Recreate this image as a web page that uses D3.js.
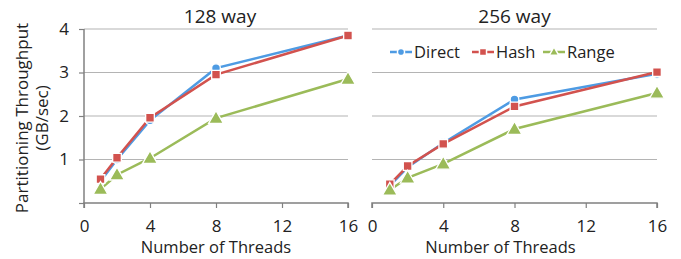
<!DOCTYPE html>
<html><head><meta charset="utf-8">
<script src="https://cdn.jsdelivr.net/npm/d3@7"></script>
<style>body{margin:0;background:#fff}svg{display:block}text{font-family:"Open Sans",sans-serif;fill:#222}</style>
</head><body><svg id="c" width="681" height="259"></svg>
<script>
const threads = [1, 2, 4, 8, 16];
const xTicks = [0, 4, 8, 12, 16];
const yTicks = [0, 1, 2, 3, 4];
const panelTitles = ["128 way", "256 way"];
const seriesNames = ["Direct", "Hash", "Range"];
const direct128 = [0.5, 1.0, 1.9, 3.1, 3.85];
const hash128 = [0.55, 1.04, 1.96, 2.95, 3.85];
const range128 = [0.32, 0.65, 1.03, 1.95, 2.85];
const direct256 = [0.4, 0.82, 1.38, 2.38, 2.97];
const hash256 = [0.43, 0.85, 1.36, 2.22, 3.01];
const range256 = [0.3, 0.58, 0.9, 1.7, 2.53];

const colors = ["#4E9BE3", "#D2524E", "#9BBB59"];
const shapes = [d3.symbolCircle, d3.symbolSquare, d3.symbolTriangle];
const sizes = [60, 75, 95];
const panels = [
  {title: panelTitles[0], data: [direct128, hash128, range128], x0: 84, x1: 348, yAxis: true},
  {title: panelTitles[1], data: [direct256, hash256, range256], x0: 372, x1: 657, yAxis: false}
];
const svg = d3.select("#c");
const y = d3.scaleLinear().domain([0, 4]).range([203, 29]);

panels.forEach((p, pi) => {
  const x = d3.scaleLinear().domain([0, 16]).range([p.x0, p.x1]);
  const g = svg.append("g");
  g.selectAll("line.grid").data(yTicks.slice(1)).join("line")
    .attr("x1", p.x0).attr("x2", p.x1).attr("y1", d => y(d)).attr("y2", d => y(d))
    .attr("stroke", "#b4b4b4").attr("stroke-width", 1.2);
  const xa = g.append("g").attr("transform", "translate(0,203)")
    .call(d3.axisBottom(x).tickValues(xTicks).tickSize(5).tickPadding(12));
  xa.select(".domain").attr("stroke", "#808080").attr("stroke-width", 1.5).attr("d", `M${p.x0},5V0H${p.x1}V5`);
  xa.selectAll(".tick line").attr("stroke", "#808080").attr("stroke-width", 1.2);
  xa.selectAll("text").style("font-size", "17px").attr("fill", "#222");
  if (p.yAxis) {
    const ya = g.append("g").attr("transform", `translate(${p.x0},0)`)
      .call(d3.axisLeft(y).tickValues(yTicks).tickFormat(d => d === 0 ? "" : d).tickSize(5).tickPadding(10));
    ya.select(".domain").attr("stroke", "#808080").attr("stroke-width", 1.5).attr("d", `M0,${y(4)}V${y(0)}`);
    ya.selectAll(".tick line").attr("stroke", "#808080").attr("stroke-width", 1.2);
    ya.selectAll("text").style("font-size", "17px").attr("fill", "#222");
  }
  g.append("text").attr("x", (p.x0 + p.x1) / 2 + (pi ? 0 : 4)).attr("y", 23).attr("text-anchor", "middle")
    .style("font-size", "19px").text(p.title);
  g.append("text").attr("x", (p.x0 + p.x1) / 2 - (pi ? 14 : 0)).attr("y", 253).attr("text-anchor", "middle")
    .style("font-size", "16.5px").text("Number of Threads");
  const line = d3.line().x((d, i) => x(threads[i])).y(d => y(d));
  p.data.forEach((vals, si) => {
    g.append("path").datum(vals).attr("d", line).attr("fill", "none")
      .attr("stroke", colors[si]).attr("stroke-width", 2.5);
  });
  p.data.forEach((vals, si) => {
    g.selectAll(null).data(vals).join("path")
      .attr("transform", (d, i) => `translate(${x(threads[i])},${y(d) + (si === 2 ? 1 : 0)})`)
      .attr("d", d3.symbol(shapes[si], sizes[si]))
      .attr("fill", colors[si]).attr("stroke", "#fff").attr("stroke-width", 1.3);
  });
});

const yl = svg.append("text").attr("transform", "translate(0,118) rotate(-90)").attr("text-anchor", "middle")
  .style("font-size", "17px");
yl.append("tspan").attr("x", 0).attr("y", 28).text("Partitioning Throughput");
yl.append("tspan").attr("x", 0).attr("y", 48).text("(GB/sec)");

const lg = svg.append("g");
const legX = [390, 472, 543];
seriesNames.forEach((n, i) => {
  const gi = lg.append("g").attr("transform", `translate(${legX[i]},52)`);
  gi.append("line").attr("x1", 0).attr("x2", 22).attr("y1", 0).attr("y2", 0)
    .attr("stroke", colors[i]).attr("stroke-width", 2.5);
  gi.append("path").attr("transform", `translate(11,${i === 2 ? 0.5 : 0})`)
    .attr("d", d3.symbol(shapes[i], [40, 50, 40][i])).attr("fill", colors[i]).attr("stroke", "#fff").attr("stroke-width", 1.5);
  gi.append("text").attr("x", 24).attr("y", 6).style("font-size", "16.5px").text(n);
});
</script></body></html>
